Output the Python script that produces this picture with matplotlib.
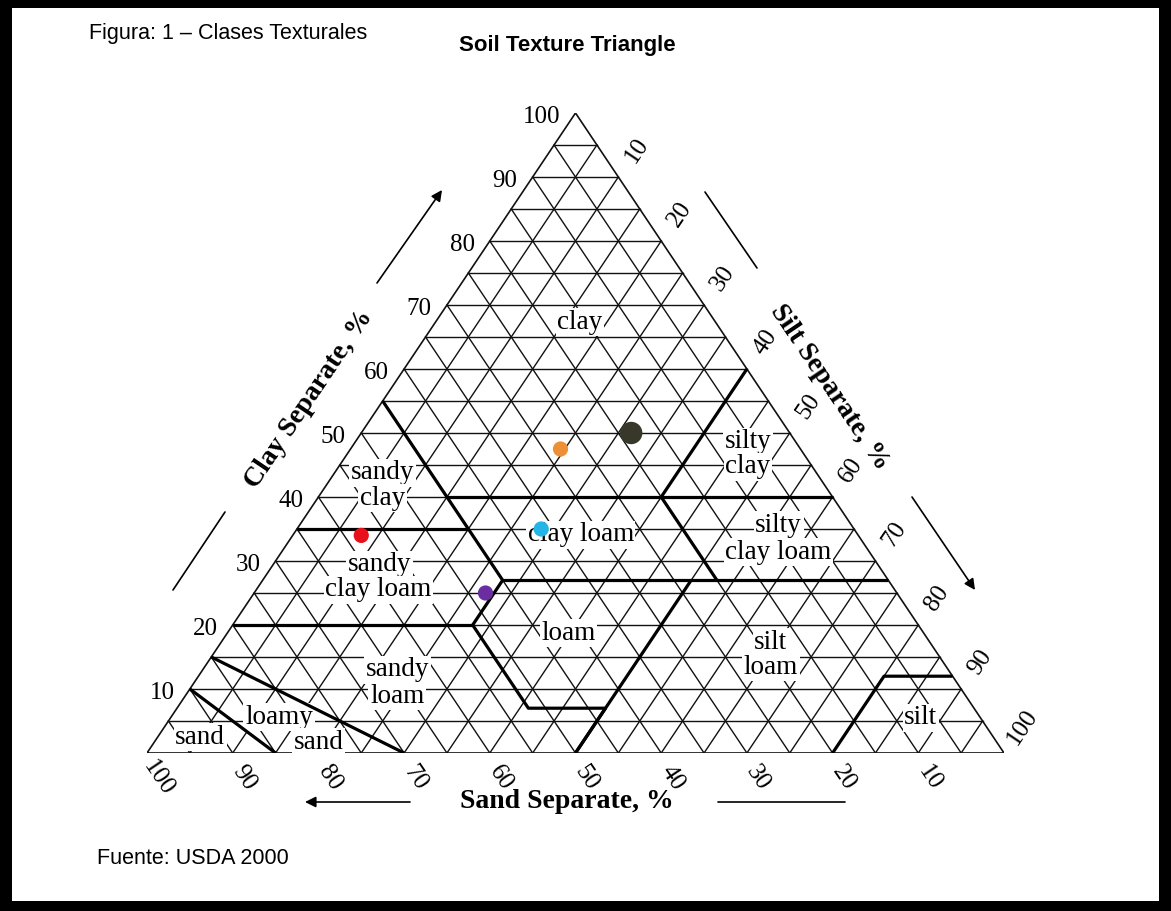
import numpy as np
import matplotlib.pyplot as plt
from matplotlib.patches import Rectangle

W, H = 1171, 911

# sample points (percent)
sample_sand = [28, 18.5, 36.5, 58, 48]
sample_silt = [24.5, 31.5, 28.5, 8, 27]
sample_clay = [47.5, 50, 35, 34, 25]
sample_colors = ['#ec8f36', '#38382a', '#22b5e6', '#e8101a', '#6a2ea0']
sample_sizes = [120, 260, 120, 120, 120]

# USDA class boundaries as (sand, silt, clay) polylines
bound_main = [(45, 0, 55), (45, 20, 35), (45, 28, 27), (52, 28, 20),
              (52, 41, 7), (43, 50, 7), (50, 50, 0)]
bound_scl = [(65, 0, 35), (45, 20, 35)]
bound_sl = [(80, 0, 20), (52, 28, 20)]
bound_c27 = [(45, 28, 27), (0, 73, 27)]
bound_silt50 = [(50, 50, 0), (23, 50, 27)]
bound_sand20 = [(20, 53, 27), (20, 40, 40)]
bound_c40 = [(45, 15, 40), (0, 60, 40)]
bound_silt40 = [(20, 40, 40), (0, 40, 60)]
bound_silt = [(20, 80, 0), (8, 80, 12), (0, 88, 12)]
bound_sand = [(85, 15, 0), (90, 0, 10)]
bound_lsand = [(70, 30, 0), (85, 0, 15)]
boundaries = [bound_main, bound_scl, bound_sl, bound_c27, bound_silt50,
              bound_sand20, bound_c40, bound_silt40, bound_silt,
              bound_sand, bound_lsand]

ticks = list(range(10, 101, 10))


def tern(pts):
    pts = np.asarray(pts, dtype=float)
    silt, clay = pts[:, 1], pts[:, 2]
    return silt + clay / 2.0, clay


fig = plt.figure(figsize=(W / 100, H / 100), dpi=100)
fig.patch.set_facecolor('black')
fig.add_artist(Rectangle((12 / W, 10 / H), (W - 24) / W, (H - 18) / H,
                         transform=fig.transFigure, facecolor='white',
                         edgecolor='none', zorder=0))

# triangle box in pixels: base y=753, apex y=113, x from 147 to 1004
ax = fig.add_axes([147 / W, (H - 753) / H, 857 / W, 640 / H])
ax.set_xlim(0, 100)
ax.set_ylim(0, 100)
ax.axis('off')

serif = 'Liberation Serif'
gc = '#111111'
# 5% lattice
for k in range(5, 100, 5):
    ax.plot([k / 2, 100 - k / 2], [k, k], color=gc, lw=1.0, zorder=1)
    ax.plot([100 - k, (100 - k) / 2], [0, 100 - k], color=gc, lw=1.0, zorder=1)
    ax.plot([k, k + (100 - k) / 2], [0, 100 - k], color=gc, lw=1.0, zorder=1)
ax.plot([0, 100, 50, 0], [0, 0, 100, 0], color=gc, lw=1.2, zorder=1)

# texture class names
class_labels = [
    ('clay', 50.5, 67.3), ('sandy', 27.5, 43.8), ('clay', 27.5, 39.8),
    ('sandy', 27.1, 29.4), ('clay loam', 27.0, 25.5),
    ('clay loam', 50.6, 34.1), ('silty', 70.1, 48.6), ('clay', 70.1, 44.7),
    ('silty', 73.7, 35.6), ('clay loam', 73.7, 31.4), ('loam', 49.2, 18.75),
    ('sandy', 29.2, 13.0), ('loam', 29.2, 8.9), ('loamy', 15.4, 5.6),
    ('sand', 6.2, 2.5), ('sand', 20.0, 1.7), ('silt', 72.8, 17.3),
    ('loam', 72.8, 13.4), ('silt', 90.3, 5.5),
]
for s, x, y in class_labels:
    ax.text(x, y, s, family=serif, fontsize=19.5, ha='center', va='center',
            zorder=3, bbox=dict(facecolor='white', edgecolor='none', pad=1.2))

for b in boundaries:
    x, y = tern(b)
    ax.plot(x, y, color='black', lw=2.3, zorder=4, solid_capstyle='butt')

x, y = tern(list(zip(sample_sand, sample_silt, sample_clay)))
ax.scatter(x, y, s=sample_sizes, c=sample_colors, edgecolors='none', zorder=6)

# axis numbers
for t in ticks:
    # clay on the left edge
    ax.annotate(str(t), (t / 2, t), xytext=(-11, -3), textcoords='offset points',
                ha='right', va='center', family=serif, fontsize=18,
                annotation_clip=False)
    # silt on the right edge
    ax.annotate(str(t), (50 + t / 2, 100 - t), xytext=(13.5, 19),
                textcoords='offset points', ha='center', va='center',
                rotation=56, family=serif, fontsize=18, annotation_clip=False)
    # sand along the base
    ax.annotate(str(t), (100 - t, 0), xytext=(8, -18),
                textcoords='offset points', ha='center', va='center',
                rotation=-56, family=serif, fontsize=18, annotation_clip=False)


def fp(x, y):
    return x, H - y


fig.text(309 / W, 1 - 399 / H, 'Clay Separate, %', family=serif, weight='bold',
         fontsize=20, rotation=56, ha='center', va='center')
fig.text(830 / W, 1 - 387 / H, 'Silt Separate, %', family=serif, weight='bold',
         fontsize=20, rotation=-56, ha='center', va='center')
fig.text(567 / W, 1 - 801 / H, 'Sand Separate, %', family=serif, weight='bold',
         fontsize=20, ha='center', va='center')

arrow = dict(arrowstyle='-|>', color='black', lw=1.2, mutation_scale=16,
             shrinkA=0, shrinkB=0)
plain = dict(arrowstyle='-', color='black', lw=1.2, shrinkA=0, shrinkB=0)
for p0, p1, st in [((377, 283), (442, 190), arrow),
                   ((173, 590), (225, 512), plain),
                   ((705, 192), (757, 268), plain),
                   ((912, 497), (975, 590), arrow),
                   ((410, 802), (305, 802), arrow),
                   ((718, 802), (845, 802), plain)]:
    fig.add_artist(plt.matplotlib.text.Annotation(
        '', xy=fp(*p1), xytext=fp(*p0), xycoords='figure pixels',
        textcoords='figure pixels', arrowprops=st))

fig.text(89 / W, 1 - 33 / H, 'Figura: 1 – Clases Texturales',
         family='Liberation Sans', fontsize=15.5, ha='left', va='center')
fig.text(567 / W, 1 - 45 / H, 'Soil Texture Triangle',
         family='Liberation Sans', weight='bold', fontsize=16,
         ha='center', va='center')
fig.text(97 / W, 1 - 858 / H, 'Fuente: USDA 2000',
         family='Liberation Sans', fontsize=15.5, ha='left', va='center')

fig.savefig('out.png', dpi=100, facecolor='black')
